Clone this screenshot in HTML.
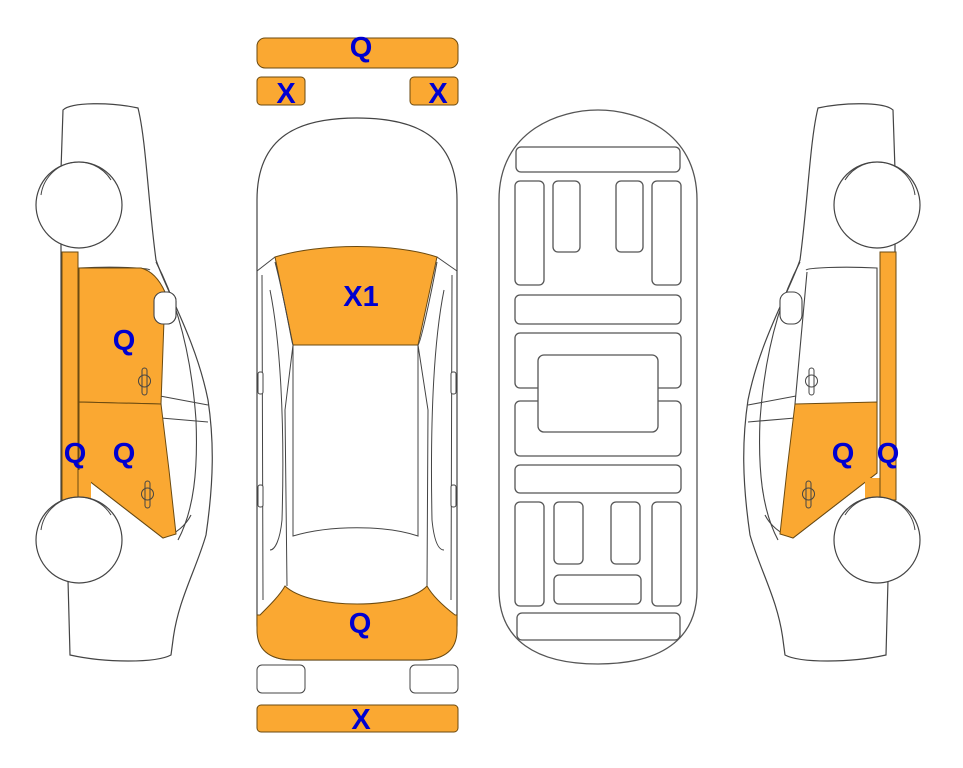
<!DOCTYPE html>
<html><head><meta charset="utf-8"><style>
html,body{margin:0;padding:0;background:#fff;}
svg{display:block;}
text{font-family:"Liberation Sans",Arial,sans-serif;font-weight:bold;fill:#0000d0;font-size:29px;text-anchor:middle;}
</style></head><body>
<svg width="963" height="768" viewBox="0 0 963 768" xmlns="http://www.w3.org/2000/svg">
<defs>
<g id="side">
  <path d="M818,108 C845,102 885,102 893,110 L895,170 L895,505 L888,580 L886,655 C850,663 800,663 785,655 L783,640 C778,600 760,570 750,535 C742,480 742,440 748,400 C760,340 790,290 800,260 C808,200 810,140 818,108 Z" fill="#fff" stroke="#444" stroke-width="1.2"/>
  <path d="M800,262 C780,300 765,350 760,420 C758,470 762,510 778,540" fill="none" stroke="#444" stroke-width="1.1"/>
  <path d="M806,270 C808,268 840,266 877,268 L877,473 L793,538 C780,534 770,525 765,515" fill="none" stroke="#444" stroke-width="1.1"/>
  <path d="M807,272 L795,404 L797,530" fill="none" stroke="#444" stroke-width="1.1"/>
  <path d="M748,405 L796,396 M748,422 L795,418" fill="none" stroke="#444" stroke-width="1.1"/>
  <rect x="780" y="292" width="22" height="32" rx="9" fill="#fff" stroke="#444" stroke-width="1.1"/>
</g>
<g id="sidewheels">
  <circle cx="877" cy="205" r="43" fill="#fff" stroke="#444" stroke-width="1.2"/>
  <path d="M845,180 A38,38 0 0 1 915,195" fill="none" stroke="#444" stroke-width="1"/>
  <circle cx="877" cy="540" r="43" fill="#fff" stroke="#444" stroke-width="1.2"/>
  <path d="M845,515 A38,38 0 0 1 915,530" fill="none" stroke="#444" stroke-width="1"/>
</g>
<g id="handles">
  <rect x="809" y="368" width="5" height="27" rx="2.5" fill="none" stroke="#444"/>
  <circle cx="811.5" cy="381" r="6" fill="none" stroke="#444"/>
  <rect x="806" y="481" width="5" height="27" rx="2.5" fill="none" stroke="#444"/>
  <circle cx="808.5" cy="494" r="6" fill="none" stroke="#444"/>
</g>
</defs>

<!-- RIGHT SIDE CAR -->
<use href="#side"/>
<path d="M795,404 L877,402 L877,473 L793,538 L780,534 L787,470 Z" fill="#faa832" stroke="#6b4a10" stroke-width="1"/>
<path d="M865,478 L883,478 L883,500 L865,500 Z" fill="#faa832"/>
<rect x="880" y="252" width="16" height="248" fill="#faa832" stroke="#6b4a10" stroke-width="1"/>
<use href="#sidewheels"/>
<use href="#handles"/>
<text x="843" y="463">Q</text>
<text x="888" y="463">Q</text>

<!-- LEFT SIDE CAR (mirrored) -->
<g transform="translate(956,0) scale(-1,1)">
  <use href="#side"/>
  <path d="M877,268 L815,268 Q800,272 791,292 L795,404 L877,402 Z" fill="#faa832" stroke="#6b4a10" stroke-width="1"/>
  <path d="M795,404 L877,402 L877,473 L793,538 L780,534 L787,470 Z" fill="#faa832" stroke="#6b4a10" stroke-width="1"/>
  <path d="M865,470 L883,470 L883,500 L865,500 Z" fill="#faa832"/>
  <rect x="878" y="252" width="16" height="248" fill="#faa832" stroke="#6b4a10" stroke-width="1"/>
  <rect x="780" y="292" width="22" height="32" rx="9" fill="#fff" stroke="#444" stroke-width="1.1"/>
  <use href="#sidewheels"/>
  <use href="#handles"/>
</g>
<text x="124" y="350">Q</text>
<text x="124" y="463">Q</text>
<text x="75" y="463">Q</text>

<!-- TOP VIEW CAR -->
<rect x="257" y="38" width="201" height="30" rx="8" fill="#faa832" stroke="#6b4a10"/>
<rect x="257" y="77" width="48" height="28" rx="4" fill="#faa832" stroke="#6b4a10"/>
<rect x="410" y="77" width="48" height="28" rx="4" fill="#faa832" stroke="#6b4a10"/>
<text x="361" y="57">Q</text>
<text x="286" y="103">X</text>
<text x="438" y="103">X</text>

<path d="M257,200 C257,135 300,118 357,118 C414,118 457,135 457,200 L457,625 C457,650 445,660 420,660 L294,660 C269,660 257,650 257,625 Z" fill="#fff" stroke="#444" stroke-width="1.2"/>
<path d="M257,271 L275,257 M457,271 L437,257" stroke="#444" fill="none"/>
<path d="M275,257 C320,243 395,243 437,257 L418,345 L293,345 Z" fill="#faa832" stroke="#6b4a10" stroke-width="1"/>
<path d="M262,275 L263,600 M452,275 L451,600" stroke="#444" fill="none"/>
<path d="M275,262 C285,300 292,345 293,345 L285,410 L287,586 M437,262 C430,300 420,345 418,345 L428,410 L427,586" stroke="#444" fill="none"/>
<path d="M270,290 C280,340 285,420 282,520 C280,540 275,550 270,550 M444,290 C434,340 430,420 432,520 C434,540 438,550 444,550" stroke="#444" fill="none"/>
<path d="M293,345 L293,536 C330,525 385,525 418,536 L418,345" stroke="#444" fill="none"/>
<path d="M257,615 L260,615 C270,605 280,595 285,586 C310,610 405,610 427,586 C432,595 442,605 455,615 L457,615 L457,630 C457,650 445,660 420,660 L294,660 C269,660 257,650 257,630 Z" fill="#faa832" stroke="#6b4a10" stroke-width="1"/>
<rect x="258" y="372" width="5" height="22" rx="2" fill="#fff" stroke="#444"/>
<rect x="258" y="485" width="5" height="22" rx="2" fill="#fff" stroke="#444"/>
<rect x="451" y="372" width="5" height="22" rx="2" fill="#fff" stroke="#444"/>
<rect x="451" y="485" width="5" height="22" rx="2" fill="#fff" stroke="#444"/>
<text x="361" y="306">X1</text>
<text x="360" y="633">Q</text>

<rect x="257" y="665" width="48" height="28" rx="5" fill="#fff" stroke="#444"/>
<rect x="410" y="665" width="48" height="28" rx="5" fill="#fff" stroke="#444"/>
<rect x="257" y="705" width="201" height="27" rx="4" fill="#faa832" stroke="#6b4a10"/>
<text x="361" y="729">X</text>

<!-- UNDERSIDE VIEW -->
<g fill="#fff" stroke="#555" stroke-width="1.3">
<path d="M499,200 C499,130 560,110 598,110 C636,110 697,130 697,200 L697,590 C697,640 660,664 598,664 C536,664 499,640 499,590 Z"/>
<rect x="516" y="147" width="164" height="25" rx="5"/>
<rect x="515" y="181" width="29" height="104" rx="5"/>
<rect x="553" y="181" width="27" height="71" rx="5"/>
<rect x="616" y="181" width="27" height="71" rx="5"/>
<rect x="652" y="181" width="29" height="104" rx="5"/>
<rect x="515" y="295" width="166" height="29" rx="5"/>
<rect x="515" y="333" width="166" height="55" rx="5"/>
<rect x="515" y="401" width="166" height="55" rx="5"/>
<rect x="538" y="355" width="120" height="77" rx="6"/>
<rect x="515" y="465" width="166" height="28" rx="5"/>
<rect x="515" y="502" width="29" height="104" rx="5"/>
<rect x="554" y="502" width="29" height="62" rx="5"/>
<rect x="611" y="502" width="29" height="62" rx="5"/>
<rect x="652" y="502" width="29" height="104" rx="5"/>
<rect x="554" y="575" width="87" height="29" rx="5"/>
<rect x="517" y="613" width="163" height="27" rx="5"/>
</g>
</svg>
</body></html>
